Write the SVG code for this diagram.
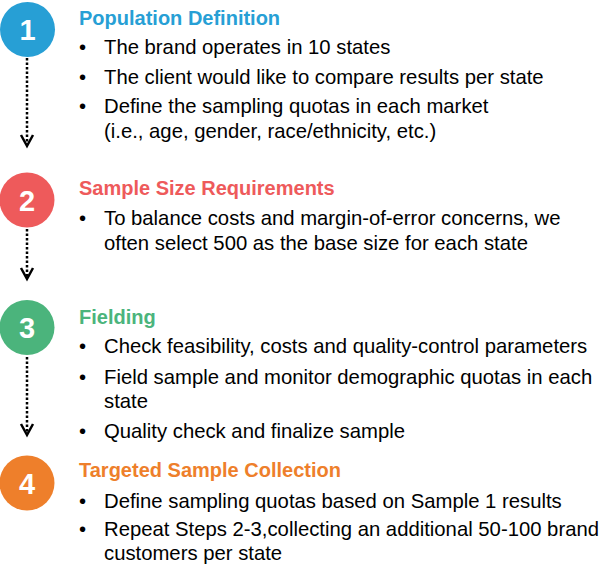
<svg xmlns="http://www.w3.org/2000/svg" width="600" height="567" viewBox="0 0 600 567">
<style>
.num{font-family:"Liberation Sans",Arial,sans-serif;font-weight:bold;font-size:29px;fill:#fff;text-anchor:middle}
.title{font-family:"Liberation Sans",Arial,sans-serif;font-weight:bold;font-size:20px}
.txt{font-family:"Liberation Sans",Arial,sans-serif;font-size:20.3px;fill:#000}
.dot{stroke:#000;stroke-width:2.5;stroke-dasharray:2.5 2;fill:none}
.head{stroke:#000;stroke-width:2.5;fill:none}
</style>
<rect width="600" height="567" fill="#fff"/>
<g id="connectors">
<line class="dot" x1="27" y1="58" x2="27" y2="144"/>
<polyline class="head" points="21,135 27,146 33,135"/>
<line class="dot" x1="27" y1="229" x2="27" y2="278"/>
<polyline class="head" points="21,268 27,279 33,268"/>
<line class="dot" x1="27" y1="357" x2="27" y2="433"/>
<polyline class="head" points="21,424 27,435 33,424"/>
</g>
<g id="step1">
<circle cx="27.5" cy="29.5" r="27.5" fill="#279FD5"/>
<text class="num" x="27.5" y="40">1</text>
<text class="title" x="79" y="25" fill="#279FD5">Population Definition</text>
<text class="txt" x="79" y="54">•</text><text class="txt" x="104" y="54">The brand operates in 10 states</text>
<text class="txt" x="79" y="84">•</text><text class="txt" x="104" y="84">The client would like to compare results per state</text>
<text class="txt" x="79" y="113">•</text><text class="txt" x="104" y="113">Define the sampling quotas in each market</text>
<text class="txt" x="104" y="138">(i.e., age, gender, race/ethnicity, etc.)</text>
</g>
<g id="step2">
<circle cx="27" cy="200" r="27.5" fill="#EE5A5B"/>
<text class="num" x="27" y="210.5">2</text>
<text class="title" x="79" y="195" fill="#EE5A5B">Sample Size Requirements</text>
<text class="txt" x="79" y="225">•</text><text class="txt" x="104" y="225">To balance costs and margin-of-error concerns, we</text>
<text class="txt" x="104" y="250">often select 500 as the base size for each state</text>
</g>
<g id="step3">
<circle cx="27" cy="327.5" r="27.5" fill="#4BB47C"/>
<text class="num" x="27" y="338">3</text>
<text class="title" x="79" y="324" fill="#4BB47C">Fielding</text>
<text class="txt" x="79" y="353">•</text><text class="txt" x="104" y="353">Check feasibility, costs and quality-control parameters</text>
<text class="txt" x="79" y="384">•</text><text class="txt" x="104" y="384">Field sample and monitor demographic quotas in each</text>
<text class="txt" x="104" y="408">state</text>
<text class="txt" x="79" y="438">•</text><text class="txt" x="104" y="438">Quality check and finalize sample</text>
</g>
<g id="step4">
<circle cx="27" cy="483" r="27.5" fill="#EE7F2B"/>
<text class="num" x="27" y="493.5">4</text>
<text class="title" x="79" y="477" fill="#EE7F2B">Targeted Sample Collection</text>
<text class="txt" x="79" y="508">•</text><text class="txt" x="104" y="508">Define sampling quotas based on Sample 1 results</text>
<text class="txt" x="79" y="536">•</text><text class="txt" x="104" y="536">Repeat Steps 2-3,collecting an additional 50-100 brand</text>
<text class="txt" x="104" y="560">customers per state</text>
</g>
</svg>
